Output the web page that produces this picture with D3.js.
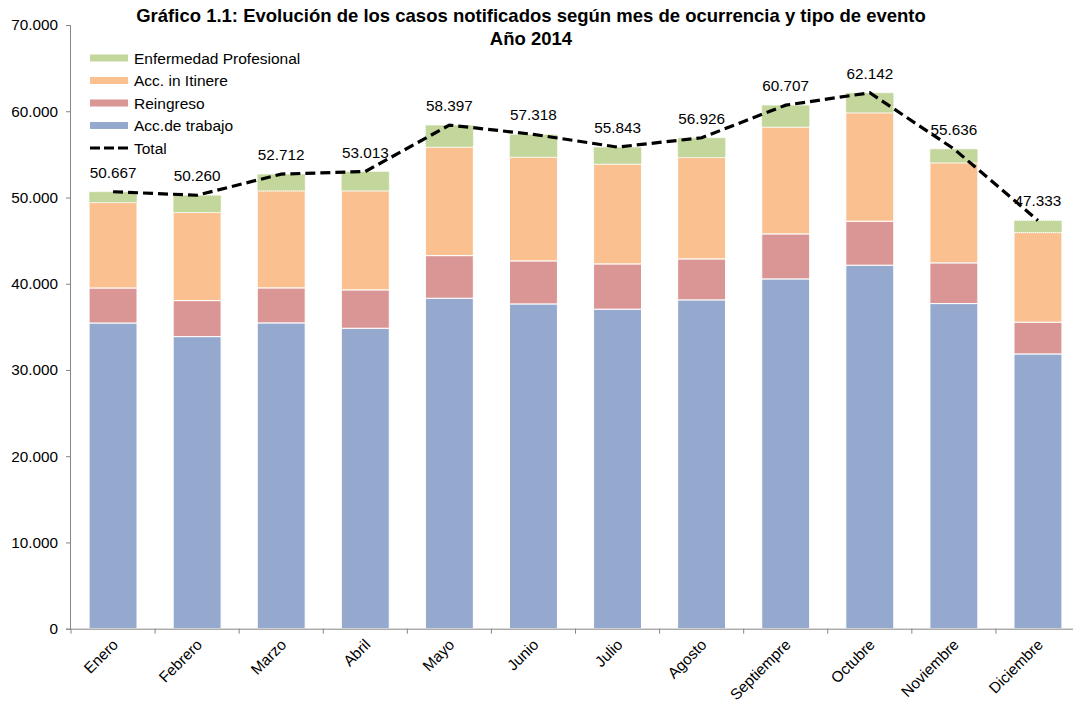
<!DOCTYPE html>
<html>
<head>
<meta charset="utf-8">
<script src="https://cdn.jsdelivr.net/npm/d3@7/dist/d3.min.js"></script>
<style>
  html, body { margin: 0; padding: 0; background: #fff; }
  svg { display: block; font-family: "Liberation Sans", Arial, sans-serif; }
</style>
</head>
<body>
<svg id="chart" width="1073" height="704"></svg>
<script>
const months = ["Enero","Febrero","Marzo","Abril","Mayo","Junio","Julio","Agosto","Septiempre","Octubre","Noviembre","Diciembre"];
const accTrabajo = [35450,33870,35460,34840,38320,37660,37050,38130,40560,42150,37700,31860];
const reingreso  = [4060,4175,4060,4450,4940,4990,5250,4750,5220,5100,4720,3680];
const accItinere = [9900,10210,11250,11480,12580,12030,11570,11750,12380,12570,11600,10390];
const enfProf    = [1257,2005,1942,2243,2557,2638,1973,2296,2547,2322,1616,1403];
const totals     = [50667,50260,52712,53013,58397,57318,55843,56926,60707,62142,55636,47333];
const yTicks = [0,10000,20000,30000,40000,50000,60000,70000];
const seriesNames = ["Acc.de trabajo","Reingreso","Acc. in Itinere","Enfermedad Profesional"];
const seriesColors = ["#95A9CF","#D99694","#FAC090","#C3D69B"];

const svg = d3.select("#chart");
const margin = {left: 71, right: 1080, top: 25, bottom: 628.7};

const x = d3.scaleBand().domain(months).range([margin.left, margin.right]).paddingInner(0.43).paddingOuter(0.215);
const xb = d3.scaleBand().domain(months).range([margin.left, margin.right]);
const y = d3.scaleLinear().domain([0,70000]).range([margin.bottom, margin.top]);

const fmt = v => d3.format(",")(v).replace(/,/g, ".");

// Stack data
const rows = months.map((m,i) => ({month:m, s0:accTrabajo[i], s1:reingreso[i], s2:accItinere[i], s3:enfProf[i]}));
const stack = d3.stack().keys(["s0","s1","s2","s3"])(rows);

const gBars = svg.append("g");
stack.forEach((layer, li) => {
  gBars.selectAll(null).data(layer).enter().append("rect")
    .attr("x", d => x(d.data.month))
    .attr("width", x.bandwidth())
    .attr("y", d => y(d[1]))
    .attr("height", d => y(d[0]) - y(d[1]))
    .attr("fill", seriesColors[li])
    .attr("stroke", "#fff")
    .attr("stroke-width", 1)
    .attr("stroke-dasharray", li === 3 ? "1,1" : null);
});

// Y axis
const yAxis = d3.axisLeft(y).tickValues(yTicks).tickSize(5).tickPadding(8).tickFormat(d => fmt(d));
const gy = svg.append("g").attr("transform", `translate(${margin.left},0)`).call(yAxis);
gy.selectAll("path, line").attr("stroke", "#868686");
gy.select(".domain").attr("d", `M-0.5,${margin.top}V${margin.bottom}`);
gy.selectAll("text").attr("font-size", "15.3px").attr("fill", "#000").attr("font-family", "Liberation Sans, Arial, sans-serif");

// X axis
const gx = svg.append("g").attr("transform", `translate(0,${margin.bottom})`);
gx.append("line").attr("x1", margin.left - 5).attr("x2", 1073).attr("y1", 0.5).attr("y2", 0.5).attr("stroke", "#868686");
gx.selectAll(".tk").data(months.concat(["_end"])).enter().append("line")
  .attr("x1", (d,i) => margin.left + i * xb.bandwidth())
  .attr("x2", (d,i) => margin.left + i * xb.bandwidth())
  .attr("y1", 0).attr("y2", 5).attr("stroke", "#868686");
gx.selectAll(".lbl").data(months).enter().append("text")
  .attr("transform", d => `translate(${x(d) + x.bandwidth()/2 + 6},${17}) rotate(-45)`)
  .attr("text-anchor", "end")
  .attr("font-size", "15.3px")
  .attr("fill", "#000")
  .text(d => d);

// Total line
const line = d3.line().x((d,i) => x(months[i]) + x.bandwidth()/2).y(d => y(d));
svg.append("path").datum(totals).attr("d", line)
  .attr("fill", "none").attr("stroke", "#000").attr("stroke-width", 3.2)
  .attr("stroke-dasharray", "10,5");

// Data labels
svg.selectAll(".dl").data(totals).enter().append("text")
  .attr("x", (d,i) => x(months[i]) + x.bandwidth()/2)
  .attr("y", d => y(d) - 14)
  .attr("text-anchor", "middle")
  .attr("font-size", "15.3px")
  .attr("fill", "#000")
  .text(d => fmt(d));

// Title
svg.append("text").attr("x", 531).attr("y", 22).attr("text-anchor", "middle")
  .attr("font-size", "18.5px").attr("font-weight", "bold")
  .text("Gráfico 1.1: Evolución de los casos notificados según mes de ocurrencia y tipo de evento");
svg.append("text").attr("x", 531).attr("y", 44.5).attr("text-anchor", "middle")
  .attr("font-size", "18.5px").attr("font-weight", "bold")
  .text("Año 2014");

// Legend
const legendItems = [
  {name: seriesNames[3], color: seriesColors[3], type: "rect"},
  {name: seriesNames[2], color: seriesColors[2], type: "rect"},
  {name: seriesNames[1], color: seriesColors[1], type: "rect"},
  {name: seriesNames[0], color: seriesColors[0], type: "rect"},
  {name: "Total", color: "#000", type: "line"}
];
const lg = svg.append("g");
legendItems.forEach((it, i) => {
  const cy = 58 + i * 22.5;
  if (it.type === "rect") {
    lg.append("rect").attr("x", 90).attr("y", cy - 3.5).attr("width", 38).attr("height", 7).attr("fill", it.color);
  } else {
    lg.append("line").attr("x1", 90).attr("x2", 128).attr("y1", cy).attr("y2", cy)
      .attr("stroke", "#000").attr("stroke-width", 3.2).attr("stroke-dasharray", "10,4");
  }
  lg.append("text").attr("x", 134).attr("y", cy + 5.5).attr("font-size", "15.5px").attr("fill", "#000").text(it.name);
});
</script>
</body>
</html>
